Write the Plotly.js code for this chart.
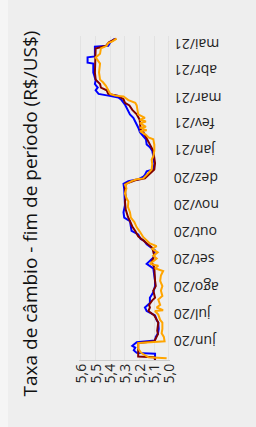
<!DOCTYPE html>
<html><head><meta charset="utf-8">
<script src="https://cdn.plot.ly/plotly-3.0.1.min.js"></script>
<style>
html,body{margin:0;padding:0;overflow:hidden;width:256px;height:427px;}
body{background:linear-gradient(to right,#f5f5f5 0px,#f5f5f5 8px,#eeeeee 8px,#eeeeee 100%);}
#wrap{position:absolute;left:0;top:0;width:427px;height:256px;transform-origin:0 0;transform:translate(0px,427px) rotate(-90deg);}
#chart{width:427px;height:256px;}
</style></head><body>
<div id="wrap"><div id="chart"></div></div>
<script>
const titleText = "Taxa de câmbio - fim de período (R$/US$)";
const monthTicks = ["2020-06-01","2020-07-01","2020-08-01","2020-09-01","2020-10-01","2020-11-01","2020-12-01","2021-01-01","2021-02-01","2021-03-01","2021-04-01","2021-05-01"];
const monthLabels = ["jun/20","jul/20","ago/20","set/20","out/20","nov/20","dez/20","jan/21","fev/21","mar/21","abr/21","mai/21"];
const valueTicks = [5.0,5.1,5.2,5.3,5.4,5.5,5.6];

const blueDates = ["2020-05-10","2020-05-17","2020-05-18","2020-05-21","2020-05-24","2020-05-26","2020-05-30","2020-06-01","2020-06-05","2020-06-09","2020-06-14","2020-06-21","2020-06-24","2020-06-29","2020-07-04","2020-07-08","2020-07-13","2020-07-19","2020-07-25","2020-08-01","2020-08-07","2020-08-15","2020-08-21","2020-08-26","2020-08-28","2020-09-02","2020-09-10","2020-09-17","2020-09-21","2020-09-23","2020-09-28","2020-10-02","2020-10-07","2020-10-13","2020-10-17","2020-10-23","2020-10-31","2020-11-08","2020-11-18","2020-11-24","2020-11-27","2020-11-29","2020-12-02","2020-12-04","2020-12-08","2020-12-10","2020-12-17","2020-12-25","2020-12-31","2021-01-04","2021-01-07","2021-01-13","2021-01-16","2021-01-21","2021-01-26","2021-02-01","2021-02-06","2021-02-10","2021-02-15","2021-02-21","2021-02-26","2021-03-01","2021-03-03","2021-03-05","2021-03-09","2021-03-12","2021-03-16","2021-03-20","2021-03-26","2021-03-29","2021-04-08","2021-04-09","2021-04-15","2021-04-16","2021-04-27","2021-04-28","2021-05-02","2021-05-06"];
const blueValues = [5.095,5.095,5.22,5.24,5.23,5.25,5.22,5.095,5.09,5.075,5.07,5.073,5.084,5.095,5.152,5.164,5.13,5.13,5.107,5.095,5.095,5.10,5.107,5.152,5.14,5.107,5.095,5.152,5.17,5.193,5.21,5.255,5.26,5.266,5.305,5.31,5.30,5.30,5.305,5.31,5.277,5.21,5.175,5.164,5.152,5.107,5.10,5.107,5.114,5.13,5.152,5.157,5.175,5.198,5.209,5.227,5.243,5.266,5.28,5.30,5.323,5.345,5.414,5.48,5.50,5.486,5.505,5.50,5.51,5.516,5.516,5.555,5.555,5.505,5.505,5.414,5.40,5.37];

const maroonDates = ["2020-05-10","2020-05-13","2020-05-14","2020-05-29","2020-05-31","2020-06-04","2020-06-08","2020-06-12","2020-06-21","2020-06-29","2020-07-04","2020-07-08","2020-07-11","2020-07-16","2020-07-19","2020-07-27","2020-08-01","2020-08-07","2020-08-15","2020-08-22","2020-08-28","2020-09-04","2020-09-13","2020-09-18","2020-09-21","2020-09-26","2020-10-02","2020-10-07","2020-10-13","2020-10-18","2020-10-26","2020-11-04","2020-11-08","2020-11-18","2020-11-24","2020-11-28","2020-11-30","2020-12-04","2020-12-08","2020-12-10","2020-12-17","2020-12-25","2020-12-31","2021-01-05","2021-01-09","2021-01-15","2021-01-21","2021-01-24","2021-01-30","2021-02-04","2021-02-08","2021-02-10","2021-02-15","2021-02-20","2021-02-23","2021-02-27","2021-03-03","2021-03-05","2021-03-09","2021-03-12","2021-03-16","2021-03-21","2021-03-29","2021-04-12","2021-04-25","2021-04-28","2021-05-02","2021-05-06"];
const maroonValues = [5.095,5.10,5.21,5.21,5.10,5.09,5.075,5.08,5.073,5.10,5.14,5.13,5.136,5.114,5.095,5.107,5.09,5.095,5.095,5.10,5.118,5.10,5.114,5.152,5.175,5.21,5.23,5.25,5.266,5.28,5.295,5.30,5.295,5.30,5.295,5.23,5.164,5.14,5.118,5.10,5.095,5.10,5.107,5.123,5.136,5.16,5.175,5.193,5.198,5.20,5.214,5.22,5.25,5.27,5.30,5.31,5.35,5.414,5.425,5.464,5.47,5.50,5.505,5.505,5.50,5.43,5.41,5.36];

const orangeDates = ["2020-05-12","2020-05-13","2020-05-18","2020-05-23","2020-05-29","2020-05-31","2020-06-05","2020-06-09","2020-06-14","2020-06-21","2020-06-24","2020-06-30","2020-07-04","2020-07-05","2020-07-08","2020-07-11","2020-07-17","2020-07-21","2020-07-27","2020-08-01","2020-08-05","2020-08-07","2020-08-13","2020-08-18","2020-08-21","2020-08-24","2020-08-26","2020-09-01","2020-09-04","2020-09-08","2020-09-12","2020-09-15","2020-09-18","2020-09-21","2020-09-25","2020-10-01","2020-10-06","2020-10-12","2020-10-17","2020-10-23","2020-10-29","2020-11-04","2020-11-08","2020-11-13","2020-11-19","2020-11-23","2020-11-27","2020-11-29","2020-11-30","2020-12-04","2020-12-08","2020-12-10","2020-12-16","2020-12-21","2020-12-25","2020-12-31","2021-01-07","2021-01-13","2021-01-15","2021-01-18","2021-01-22","2021-01-23","2021-01-26","2021-01-27","2021-01-31","2021-02-02","2021-02-04","2021-02-06","2021-02-10","2021-02-15","2021-02-20","2021-02-23","2021-02-26","2021-03-02","2021-03-03","2021-03-05","2021-03-10","2021-03-14","2021-03-18","2021-03-21","2021-03-29","2021-04-08","2021-04-15","2021-04-19","2021-04-25","2021-04-28","2021-05-01","2021-05-03","2021-05-06"];
const orangeValues = [5.016,5.14,5.19,5.21,5.21,5.03,5.035,5.05,5.045,5.045,5.06,5.073,5.095,5.04,5.084,5.06,5.073,5.045,5.055,5.045,5.055,5.06,5.055,5.04,5.095,5.073,5.13,5.084,5.107,5.077,5.114,5.084,5.13,5.152,5.175,5.198,5.22,5.236,5.26,5.266,5.28,5.277,5.29,5.30,5.29,5.30,5.255,5.22,5.175,5.152,5.13,5.118,5.114,5.118,5.107,5.10,5.10,5.107,5.14,5.157,5.198,5.152,5.198,5.157,5.198,5.157,5.198,5.164,5.21,5.214,5.22,5.23,5.277,5.31,5.368,5.40,5.414,5.43,5.45,5.47,5.477,5.47,5.50,5.47,5.464,5.425,5.414,5.386,5.357];

const traces = [
  {x: blueDates, y: blueValues, type: 'scatter', mode: 'lines', line: {color: '#0000ff', width: 2}, hoverinfo: 'skip'},
  {x: maroonDates, y: maroonValues, type: 'scatter', mode: 'lines', line: {color: '#800000', width: 2}, hoverinfo: 'skip'},
  {x: orangeDates, y: orangeValues, type: 'scatter', mode: 'lines', line: {color: '#ffa500', width: 2}, hoverinfo: 'skip'}
];

const layout = {
  width: 427, height: 256,
  margin: {l: 67, r: 36, t: 79, b: 86},
  paper_bgcolor: 'rgba(0,0,0,0)', plot_bgcolor: 'rgba(0,0,0,0)',
  showlegend: false,
  separators: ',.',
  font: {family: 'Open Sans, sans-serif', color: '#222222'},
  title: {text: titleText, font: {size: 19, color: '#111111'}, x: 0.5, xanchor: 'center', y: 0.883, yanchor: 'middle', yref: 'container'},
  xaxis: {type: 'date', range: ['2020-05-10', '2021-05-09'], tickvals: monthTicks, ticktext: monthLabels, tickangle: -90, showgrid: false, zeroline: false, showline: false, ticks: '', tickfont: {size: 14, color: '#222222'}},
  yaxis: {range: [4.993, 5.6135], tickvals: valueTicks, tickformat: '.1f', showgrid: true, gridcolor: '#e2e2e2', gridwidth: 1, zeroline: false, showline: true, linecolor: '#cccccc', linewidth: 1, ticks: '', tickfont: {size: 14, color: '#222222'}}
};

Plotly.newPlot('chart', traces, layout, {staticPlot: true, displayModeBar: false});
</script>
</body></html>
